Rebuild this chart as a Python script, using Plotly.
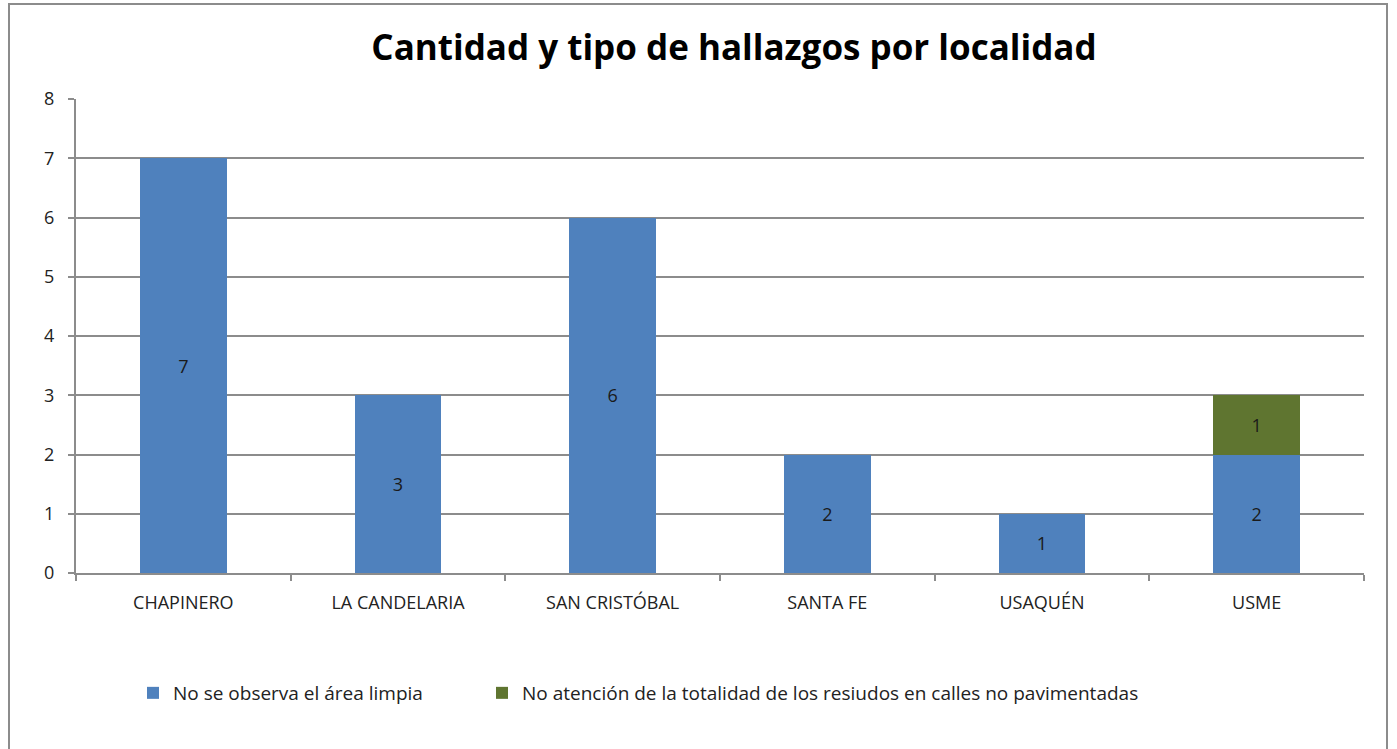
import plotly.graph_objects as go

localidades = ["CHAPINERO", "LA CANDELARIA", "SAN CRISTÓBAL", "SANTA FE", "USAQUÉN", "USME"]
area_limpia = [7, 3, 6, 2, 1, 2]
calles_no_pav = [None, None, None, None, None, 1]

serie_1 = "No se observa el área limpia"
serie_2 = "No atención de la totalidad de los resiudos en calles no pavimentadas"

fuente = "Open Sans, Liberation Sans, sans-serif"

fig = go.Figure()
fig.add_trace(
    go.Bar(
        x=localidades,
        y=area_limpia,
        name=serie_1,
        marker=dict(color="#4F81BD", line=dict(width=0)),
        text=area_limpia,
        textposition="inside",
        insidetextanchor="middle",
        textfont=dict(color="#1a1a1a", size=18),
        legend="legend",
    )
)
fig.add_trace(
    go.Bar(
        x=localidades,
        y=calles_no_pav,
        name=serie_2,
        marker=dict(color="#5F7530", line=dict(width=0)),
        text=calles_no_pav,
        textposition="inside",
        insidetextanchor="middle",
        textfont=dict(color="#1a1a1a", size=18),
        legend="legend2",
    )
)

leyenda_y = -(693 - 573) / 474

fig.update_layout(
    barmode="stack",
    bargap=0.595,
    width=1397,
    height=749,
    margin=dict(l=76, r=33, t=99, b=176),
    paper_bgcolor="white",
    plot_bgcolor="white",
    font=dict(family=fuente, color="#222", size=17),
    title=dict(
        text="<b>Cantidad y tipo de hallazgos por localidad</b>",
        x=(366 + 1102) / 2 / 1397,
        xanchor="center",
        y=1 - 48 / 749,
        yanchor="middle",
        font=dict(size=35, color="black", family=fuente),
    ),
    yaxis=dict(
        range=[0, 8],
        dtick=1,
        showgrid=True,
        gridcolor="#8c8c8c",
        gridwidth=2,
        showline=True,
        linecolor="#8c8c8c",
        linewidth=2,
        ticks="outside",
        ticklen=6,
        tickwidth=2,
        tickcolor="#8c8c8c",
        ticklabelstandoff=10,
        tickfont=dict(size=18, color="#222"),
        zeroline=False,
    ),
    xaxis=dict(
        showline=True,
        linecolor="#8c8c8c",
        linewidth=2,
        ticks="outside",
        tickson="boundaries",
        ticklen=6,
        tickwidth=2,
        tickcolor="#8c8c8c",
        ticklabelstandoff=12,
        tickfont=dict(size=18, color="#222"),
        showgrid=False,
    ),
    legend=dict(
        orientation="h",
        x=(133 - 76) / 1288,
        xanchor="left",
        y=leyenda_y,
        yanchor="middle",
        font=dict(size=19, color="#222"),
        itemwidth=30,
    ),
    legend2=dict(
        orientation="h",
        x=(482 - 76) / 1288,
        xanchor="left",
        y=leyenda_y,
        yanchor="middle",
        font=dict(size=19, color="#222"),
        itemwidth=30,
    ),
    showlegend=True,
)

# marco del gráfico
fig.add_shape(
    type="rect",
    xref="paper",
    yref="paper",
    x0=(9 - 76) / 1288,
    x1=(1387 - 76) / 1288,
    y0=-0.45,
    y1=(573 - 4) / 474,
    line=dict(color="#8c8c8c", width=2),
    fillcolor="rgba(0,0,0,0)",
    layer="below",
)

fig.write_html(
    "out.html",
    config={"displayModeBar": False},
    post_script="document.body.style.margin='0';document.body.style.overflow='hidden';",
)
